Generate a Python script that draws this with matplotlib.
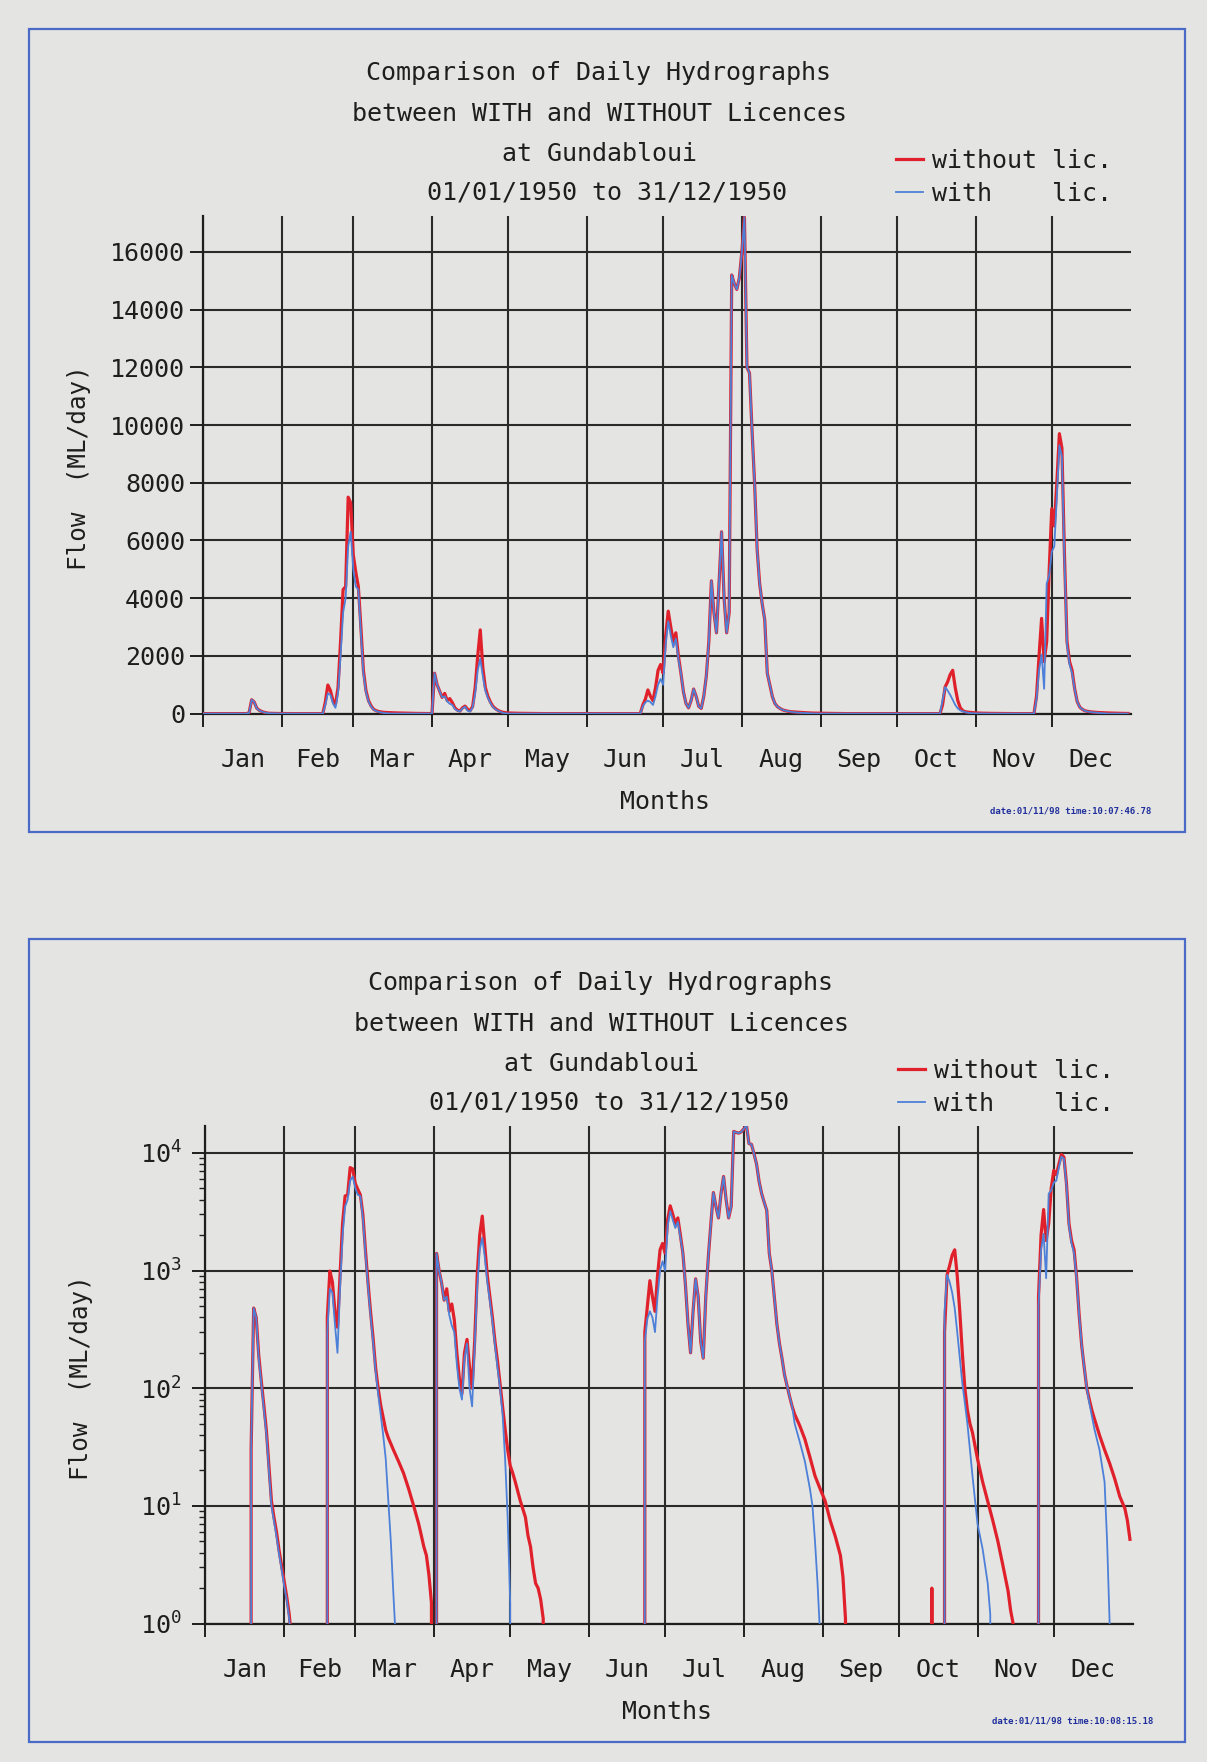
import matplotlib
matplotlib.use("Agg")
import matplotlib.pyplot as plt
from matplotlib.lines import Line2D
from matplotlib.patches import Rectangle
from matplotlib.ticker import FixedLocator, NullFormatter, LogLocator, FuncFormatter

# ---------------------------------------------------------------- text / axes
title_lines = ["Comparison of Daily Hydrographs",
               "between WITH and WITHOUT Licences",
               "at Gundabloui",
               "01/01/1950 to 31/12/1950"]
series_labels = ["without lic.", "with    lic."]
month_names = ["Jan", "Feb", "Mar", "Apr", "May", "Jun",
               "Jul", "Aug", "Sep", "Oct", "Nov", "Dec"]
month_lengths = [31, 28, 31, 30, 31, 30, 31, 31, 30, 31, 30, 31]
y_label = "Flow  (ML/day)"
x_label = "Months"
linear_ticks = [0, 2000, 4000, 6000, 8000, 10000, 12000, 14000, 16000]
log_ticks = [1, 10, 100, 1000, 10000]
stamps = ["date:01/11/98 time:10:07:46.78", "date:01/11/98 time:10:08:15.18"]

# ---------------------------------------------------------------- daily flows (ML/day), day 0 = 1 Jan
without_day = [0, 17, 18, 19, 20, 21, 22, 23, 24, 25, 26, 27, 28, 29, 30, 31, 32, 33, 34, 35,
               47, 48, 49, 50, 51, 52, 53, 54, 55, 56, 57, 58, 59, 60, 61, 62, 63, 64, 65, 66,
               67, 68, 69, 70, 71, 72, 74, 76, 78, 80, 82, 84, 86, 87, 88, 89, 90,
               91, 92, 93, 94, 95, 96, 97, 98, 99, 100, 101, 102, 103, 104, 105, 106, 107,
               108, 109, 110, 111, 112, 113, 114, 115, 116, 117, 118, 119, 120, 121, 122,
               124, 126, 127, 128, 129, 130, 131, 132, 133, 134,
               172, 173, 174, 175, 176, 177, 178, 179, 180, 181, 182, 183, 184, 185, 186,
               187, 188, 189, 190, 191, 192, 193, 194, 195, 196, 197, 198, 199, 200, 201,
               202, 203, 204, 205, 206, 207, 208, 209, 210, 211, 212, 213, 214, 215, 216,
               217, 218, 219, 220, 221, 222, 223, 224, 225, 226, 227, 228, 229, 230, 231,
               232, 234, 236, 238, 240, 242, 244, 246, 248, 250, 251, 252, 253,
               285, 286, 287,
               290, 291, 292, 293, 294, 295, 296, 297, 298, 299, 300, 301, 302, 304, 306,
               308, 310, 312, 314, 316, 317, 318, 319,
               327, 328, 329, 330, 331, 332, 333, 334, 335, 336, 337, 338, 339, 340, 341,
               342, 343, 344, 345, 346, 347, 348, 349, 350, 352, 354, 356, 358, 360, 362,
               363, 364]
without_flow = [0, 0, 30, 480, 400, 190, 115, 72, 44, 22, 11, 8, 6, 4.2, 3.1, 2.3, 1.7, 1.2, 0.7, 0,
                0, 400, 990, 800, 450, 330, 900, 2500, 4300, 4400, 7500, 7300, 5500, 4900, 4400, 3000, 1500, 800, 450, 270,
                150, 100, 72, 56, 44, 38, 30, 24, 19, 14, 10, 7, 4.5, 3.8, 2.6, 1.5, 0,
                1400, 1000, 780, 560, 700, 450, 520, 380, 200, 120, 90, 200, 260, 150, 100, 250, 900,
                2000, 2900, 1600, 900, 600, 400, 250, 170, 110, 70, 45, 30, 22, 19, 16,
                11, 8, 5.6, 4.5, 3.0, 2.2, 2.0, 1.6, 1.1, 0,
                0, 300, 500, 820, 600, 450, 900, 1500, 1700, 1400, 2700, 3550, 3000, 2500, 2800,
                2000, 1400, 750, 350, 200, 450, 850, 600, 250, 180, 600, 1300, 2500, 4600, 3500,
                2800, 4500, 6300, 4000, 2800, 3500, 15200, 14900, 14700, 15100, 16000, 17200, 12000, 11800, 9800,
                8000, 5700, 4500, 3800, 3250, 1400, 1000, 590, 350, 240, 180, 130, 105, 85, 70,
                60, 48, 37, 26, 18, 14, 11, 7.5, 5.5, 3.8, 2.5, 1.1, 0,
                0, 2.0, 0,
                0, 300, 920, 1100, 1350, 1500, 900, 450, 200, 100, 65, 50, 42, 25, 16,
                11, 7.5, 5, 3.1, 1.9, 1.3, 1.0, 0,
                0, 600, 2000, 3300, 1800, 2500, 5000, 7100, 6500, 8000, 9700, 9200, 5500, 2500, 1800,
                1500, 870, 420, 230, 150, 100, 80, 65, 55, 40, 30, 23, 17, 12, 9.5,
                7.5, 5.2]

with_day = [0, 17, 18, 19, 20, 21, 22, 23, 24, 25, 26, 27, 28, 29, 30, 31, 32, 33, 34, 35,
            47, 48, 49, 50, 51, 52, 53, 54, 55, 56, 57, 58, 59, 60, 61, 62, 63, 64, 65, 66,
            67, 68, 69, 70, 71, 72, 73, 74, 75, 76,
            90, 91, 92, 93, 94, 95, 96, 97, 98, 99, 100, 101, 102, 103, 104, 105, 106, 107,
            108, 109, 110, 111, 112, 113, 114, 115, 116, 117, 118, 119, 120, 121,
            172, 173, 174, 175, 176, 177, 178, 179, 180, 181, 182, 183, 184, 185, 186,
            187, 188, 189, 190, 191, 192, 193, 194, 195, 196, 197, 198, 199, 200, 201,
            202, 203, 204, 205, 206, 207, 208, 209, 210, 211, 212, 213, 214, 215, 216,
            217, 218, 219, 220, 221, 222, 223, 224, 225, 226, 227, 228, 229, 230, 231,
            232, 234, 236, 238, 239, 240, 241, 242, 243,
            290, 291, 292, 293, 294, 295, 296, 297, 298, 299, 300, 301, 302, 304, 306,
            308, 309, 310,
            327, 328, 329, 330, 331, 332, 333, 334, 335, 336, 337, 338, 339, 340, 341,
            342, 343, 344, 345, 346, 347, 348, 349, 350, 352, 354, 355, 356, 357, 364]
with_flow = [0, 0, 30, 480, 400, 180, 110, 68, 41, 20, 10, 7.4, 5.5, 3.9, 2.9, 2.1, 1.6, 1.1, 0.6, 0,
             0, 300, 700, 650, 350, 200, 700, 2000, 3500, 4000, 5800, 6300, 5000, 4400, 4300, 2800, 1400, 750, 420, 250,
             140, 90, 60, 40, 25, 11, 5, 1.8, 0.7, 0,
             0, 1400, 1000, 780, 560, 600, 420, 340, 300, 160, 100, 80, 180, 240, 100, 70, 220, 700,
             1500, 1900, 1300, 800, 550, 370, 230, 150, 100, 60, 25, 8, 1.5, 0,
             0, 250, 390, 450, 400, 300, 600, 1000, 1200, 1000, 2400, 3200, 2700, 2300, 2600,
             1900, 1400, 750, 350, 200, 450, 850, 600, 250, 180, 600, 1300, 2500, 4600, 3500,
             2800, 4500, 6300, 4000, 2800, 3500, 15200, 14900, 14700, 15100, 16000, 17200, 12000, 11800, 9800,
             8000, 5700, 4500, 3800, 3250, 1400, 1000, 590, 350, 240, 180, 130, 105, 85, 70,
             50, 35, 24, 14, 10, 5, 2.2, 0.8, 0,
             0, 450, 920, 800, 650, 480, 300, 180, 110, 75, 50, 30, 18, 7, 4.3,
             2.2, 1.2, 0,
             0, 500, 1500, 2050, 860, 4500, 4800, 5600, 5800, 7500, 9300, 8900, 5300, 2400, 1700,
             1400, 850, 420, 230, 150, 100, 75, 58, 45, 30, 16, 5, 1.0, 0, 0]

# ---------------------------------------------------------------- styling
W, H = 1207, 1762
BG = "#e4e4e2"
INK = "#1e1e1e"
RED = "#e0212b"
BLUE = "#4d80d8"
FRAME = "#4a6ac8"
STAMP = "#1f2f9c"
MONO = "DejaVu Sans Mono"

plt.rcParams.update({
    "font.family": MONO,
    "font.size": 18,
    "mathtext.fontset": "custom",
    "mathtext.rm": MONO,
    "mathtext.it": MONO,
    "mathtext.default": "regular",
    "text.color": INK,
    "axes.edgecolor": INK,
    "xtick.color": INK,
    "ytick.color": INK,
})

fig = plt.figure(figsize=(W / 100, H / 100), dpi=100, facecolor=BG)


def fx(px):
    return px / W


def fy(py):
    return 1 - py / H


month_starts = [sum(month_lengths[:i]) for i in range(12)]
month_mids = [s + n / 2 for s, n in zip(month_starts, month_lengths)]


def panel(off, dx, log, stamp):
    # frame around the whole plot page
    fig.add_artist(Rectangle((fx(29), fy(832 + off)), (1185 - 29) / W, (832 - 29) / H,
                             transform=fig.transFigure, fill=False,
                             edgecolor=FRAME, lw=1.6))
    left, right = 203.4 + dx, 1130.5 + dx
    top, bottom = 215.8 + off, 713.6 + off
    ax = fig.add_axes([fx(left), fy(bottom), (right - left) / W, (bottom - top) / H])
    ax.set_facecolor("none")

    ax.plot(without_day, without_flow, color=RED, lw=2.3, zorder=3,
            solid_joinstyle="round")
    ax.plot(with_day, with_flow, color=BLUE, lw=1.3, zorder=4,
            solid_joinstyle="round")

    ax.set_xlim(0, 365)
    if log:
        ax.set_yscale("log", nonpositive="clip")
        ax.set_ylim(1, 10 ** 4.23)
        ax.yaxis.set_major_locator(FixedLocator(log_ticks))
        ax.yaxis.set_major_formatter(FuncFormatter(
            lambda v, p: r"$\mathregular{10^{%d}}$" % round(__import__("math").log10(v))))
        ax.yaxis.set_minor_locator(LogLocator(base=10, subs=range(2, 10)))
        ax.yaxis.set_minor_formatter(NullFormatter())
        ax.tick_params(axis="y", which="minor", direction="out", length=4.5, width=1.0)
        ypad = 7.5
    else:
        ax.set_ylim(0, 17250)
        ax.yaxis.set_major_locator(FixedLocator(linear_ticks))
        ax.yaxis.set_major_formatter(FuncFormatter(lambda v, p: "%d" % v))
        ypad = 3.6

    ax.xaxis.set_major_locator(FixedLocator(month_starts))
    ax.xaxis.set_major_formatter(NullFormatter())
    ax.xaxis.set_minor_locator(FixedLocator(month_mids))
    ax.xaxis.set_minor_formatter(FuncFormatter(lambda v, p: month_names[p]))
    ax.tick_params(axis="x", which="minor", length=0, pad=25, labelsize=18)
    ax.tick_params(axis="both", which="major", direction="out", length=9.5,
                   width=1.4, labelsize=18)
    ax.tick_params(axis="y", which="major", pad=ypad)

    ax.grid(True, which="major", color="#2a2a2a", lw=1.5, zorder=1)
    ax.set_axisbelow(True)
    for s in ("top", "right"):
        ax.spines[s].set_visible(False)
    for s in ("left", "bottom"):
        ax.spines[s].set_linewidth(1.6)

    # titles and annotation text
    centres = [599, 599, 600, 607]
    rows = [71, 112, 152, 191]
    for line, cx, cy in zip(title_lines, centres, rows):
        fig.text(fx(cx + dx), fy(cy + off + 9), line, ha="center", va="baseline")

    for label, colour, cy, lw in zip(series_labels, [RED, BLUE], [159, 192], [2.3, 1.3]):
        fig.add_artist(Line2D([fx(896 + dx), fx(923 + dx)], [fy(cy + off)] * 2,
                              transform=fig.transFigure, color=colour, lw=lw))
        fig.text(fx(932 + dx), fy(cy + off + 9), label, ha="left", va="baseline")

    fig.text(fx(79 + dx), fy(468 + off), y_label, rotation=90, ha="center",
             va="center", fontsize=17.5)
    fig.text(fx(665 + dx), fy(800 + off + 9), x_label, ha="center", va="baseline")
    fig.text(fx(1071 + dx), fy(811 + off), stamp, ha="center", va="center",
             fontsize=6.5, fontweight="bold", color=STAMP)
    return ax


panel(0, 0, False, stamps[0])
panel(910, 2, True, stamps[1])

fig.savefig("out.png", dpi=100, facecolor=BG)
